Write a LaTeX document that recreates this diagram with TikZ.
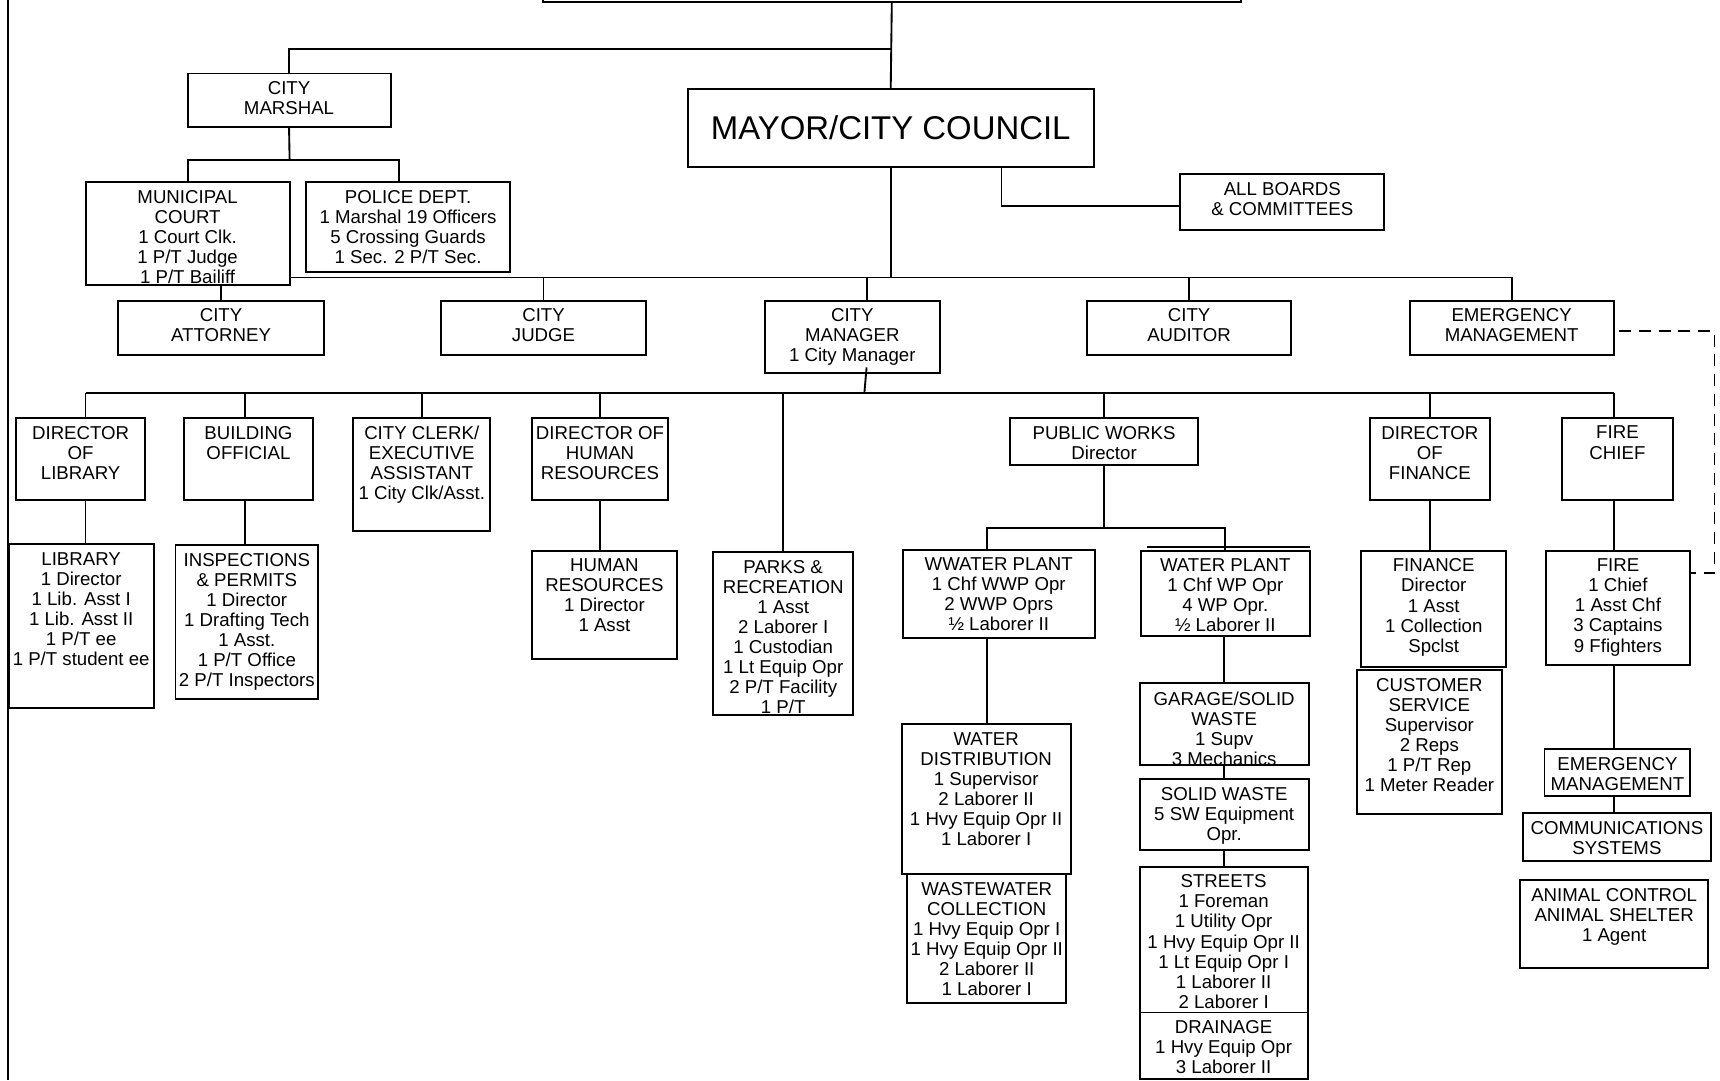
\documentclass[tikz,border=0pt]{standalone}
\usepackage{fontspec}
\setmainfont{Liberation Sans}
\usetikzlibrary{calc}
\newcommand{\orgbox}[6]{%
  \node[box, minimum width={(#4-#2)*1pt}, minimum height={(#5-#3)*1pt}] (#1) at ({(#2+#4)/2},{(#3+#5)/2}) {};
  \node[txt, anchor=north] (#1-t) at ([yshift=-7.3pt]#1.north) {#6};
}
\begin{document}
\begin{tikzpicture}[x=1pt,y=-1pt,
  box/.style={draw, line width=1.8pt, inner sep=0pt, outer sep=0pt, rectangle},
  txt/.style={inner sep=0pt, align=center, font=\fontsize{17}{18.3}\selectfont},
  conn/.style={line width=1.7pt},
  dconn/.style={line width=1.7pt, dash pattern=on 11pt off 7pt, dash phase=-5pt}]
\path[use as bounding box] (0,0) rectangle (1568,985);
\clip (0,0) rectangle (1568,985);
\fill[white] (0,0) rectangle (1568,985);

% left frame edge
\draw[conn] (7,0) -- (7,985);

% top (cut-off) box and mayor
\node[box, minimum width=636pt, minimum height=44pt] (top) at (813,-20) {};
\node[box, minimum width=370pt, minimum height=71pt, font=\fontsize{30}{36}\selectfont] (mayor) at (812,116.5) {MAYOR/CITY COUNCIL};

\orgbox{marshal}{171}{67}{356}{116}{CITY\\MARSHAL}
\orgbox{court}{78}{166}{264}{260}{MUNICIPAL\\COURT\\1 Court Clk.\\1 P/T Judge\\1 P/T Bailiff}
\orgbox{police}{279}{166}{465}{248}{POLICE DEPT.\\1 Marshal 19 Officers\\5 Crossing Guards\\1 Sec. 2 P/T Sec.}
\orgbox{boards}{1076}{159}{1262}{210}{ALL BOARDS\\\& COMMITTEES}

\orgbox{attorney}{108}{274}{295}{324}{CITY\\ATTORNEY}
\orgbox{judge}{402}{274}{589}{324}{CITY\\JUDGE}
\orgbox{manager}{697}{274}{857}{340}{CITY\\MANAGER\\1 City Manager}
\orgbox{auditor}{991}{274}{1177}{324}{CITY\\AUDITOR}
\orgbox{emerg}{1285}{274}{1471}{324}{EMERGENCY\\MANAGEMENT}

\orgbox{libdir}{15}{381}{132}{456}{DIRECTOR\\OF\\LIBRARY}
\orgbox{bldg}{168}{381}{285}{456}{BUILDING\\OFFICIAL}
\orgbox{clerk}{322}{381}{447}{484}{CITY CLERK/\\EXECUTIVE\\ASSISTANT\\1 City Clk/Asst.}
\orgbox{hrdir}{485}{381}{609}{456}{DIRECTOR OF\\HUMAN\\RESOURCES}
\orgbox{pw}{921}{381}{1092}{424}{PUBLIC WORKS\\Director}
\orgbox{findir}{1249}{381}{1358}{456}{DIRECTOR\\OF\\FINANCE}
\orgbox{chief}{1424}{381}{1525}{456}{FIRE\\CHIEF}

\orgbox{library}{8}{496}{140}{645}{LIBRARY\\1 Director\\1 Lib. Asst I\\1 Lib. Asst II\\1 P/T ee\\1 P/T student ee}
\orgbox{insp}{160}{497}{290}{637}{INSPECTIONS\\\& PERMITS\\1 Director\\1 Drafting Tech\\1 Asst.\\1 P/T Office\\2 P/T Inspectors}
\orgbox{hr}{485}{502}{617}{601}{HUMAN\\RESOURCES\\1 Director\\1 Asst}
\orgbox{parks}{650}{503}{778}{652}{PARKS \&\\RECREATION\\1 Asst\\2 Laborer I\\1 Custodian\\1 Lt Equip Opr\\2 P/T Facility\\1 P/T}
\orgbox{wwp}{823}{501}{998}{582}{WWATER PLANT\\1 Chf WWP Opr\\2 WWP Oprs\\½ Laborer II}
\orgbox{wp}{1040}{502}{1194}{580}{WATER PLANT\\1 Chf WP Opr\\4 WP Opr.\\½ Laborer II}
\orgbox{wd}{822}{660}{976}{797}{WATER\\DISTRIBUTION\\1 Supervisor\\2 Laborer II\\1 Hvy Equip Opr II\\1 Laborer I}
\orgbox{wc}{827}{797}{972}{914}{WASTEWATER\\COLLECTION\\1 Hvy Equip Opr I\\1 Hvy Equip Opr II\\2 Laborer II\\1 Laborer I}
\orgbox{garage}{1039}{623}{1193}{697}{GARAGE/SOLID\\WASTE\\1 Supv\\3 Mechanics}
\orgbox{solid}{1039}{710}{1193}{775}{SOLID WASTE\\5 SW Equipment\\Opr.}
\orgbox{streets}{1039}{790}{1192}{923}{STREETS\\1 Foreman\\1 Utility Opr\\1 Hvy Equip Opr II\\1 Lt Equip Opr I\\1 Laborer II\\2 Laborer I}
\orgbox{drain}{1039}{923}{1192}{984}{DRAINAGE\\1 Hvy Equip Opr\\3 Laborer II}
\orgbox{finance}{1241}{502}{1373}{608}{FINANCE\\Director\\1 Asst\\1 Collection\\Spclst}
\orgbox{cust}{1237}{611}{1369}{742}{CUSTOMER\\SERVICE\\Supervisor\\2 Reps\\1 P/T Rep\\1 Meter Reader}
\orgbox{fire}{1409}{502}{1541}{606}{FIRE\\1 Chief\\1 Asst Chf\\3 Captains\\9 Ffighters}
\orgbox{em2}{1408}{683}{1541}{726}{EMERGENCY\\MANAGEMENT}
\orgbox{comm}{1388}{741}{1560}{785}{COMMUNICATIONS\\SYSTEMS}
\orgbox{animal}{1386}{802}{1557}{882}{ANIMAL CONTROL\\ANIMAL SHELTER\\1 Agent}

% second top line over water plant
\draw[conn] ([xshift=6pt,yshift=3.5pt]wp.north west) -- ([yshift=3.5pt]wp.north east);

% helper coordinates
\coordinate (jTop) at (813,45);
\coordinate (jM) at (264,146);
\coordinate (polx) at (364,0);
\coordinate (bus1) at (0,253);
\coordinate (mgx) at (790,0);
\coordinate (bx) at (913,0);
\coordinate (bus2) at (0,358);
\coordinate (mtick) at (788,358);
\coordinate (lx) at (78,0);
\coordinate (bdx) at (223,0);
\coordinate (cx) at (1471.5,0);
\coordinate (pwj) at (0,481);
\coordinate (wwx) at (900,0);
\coordinate (gx) at (1115.5,0);
\coordinate (dx) at (1563,0);
\coordinate (dy) at (0,522);

% connectors: top
\draw[conn] (top.south) -- (mayor.north);
\draw[conn] (marshal.north) |- (jTop);
\draw[conn] (marshal.south) -- (jM);
\draw[conn] (court.north) |- (polx |- jM) -- (polx |- police.north);
\draw[conn] (bx |- mayor.south) |- ([yshift=-3pt]boards.west);

% bus 1
\draw[conn] (mayor.south) -- (mayor.south |- bus1);
\draw[conn] (court.east |- bus1) -- (emerg.north |- bus1) -- (emerg.north);
\draw[conn] (attorney.north) -- (attorney.north |- court.south);
\draw[conn] (judge.north) -- (judge.north |- bus1);
\draw[conn] (mgx |- manager.north) -- (mgx |- bus1);
\draw[conn] (auditor.north) -- (auditor.north |- bus1);

% bus 2
\draw[conn] ([xshift=13pt,yshift=5pt]manager.south) -- (mtick);
\draw[conn] (lx |- bus2) -- (cx |- bus2);
\draw[conn] (lx |- bus2) -- (lx |- libdir.north);
\draw[conn] (bdx |- bus2) -- (bdx |- bldg.north);
\draw[conn] (clerk.north |- bus2) -- (clerk.north);
\draw[conn] (hrdir.north |- bus2) -- (hrdir.north);
\draw[conn] (parks.north |- bus2) -- (parks.north);
\draw[conn] (pw.north |- bus2) -- (pw.north);
\draw[conn] (findir.north |- bus2) -- (findir.north);
\draw[conn] (cx |- bus2) -- (cx |- chief.north);

% lower drops
\draw[conn] (lx |- libdir.south) -- (lx |- library.north);
\draw[conn] (bdx |- bldg.south) -- (bdx |- insp.north);
\draw[conn] (hrdir.south) -- (hrdir.south |- hr.north);
\draw[conn] (pw.south) -- (pw.south |- pwj);
\draw[conn] (wwx |- wwp.north) |- (wp.north |- pwj) -- (wp.north);
\draw[conn] (wwx |- wwp.south) -- (wwx |- wd.north);
\draw[conn] (gx |- wp.south) -- (gx |- garage.north);
\draw[conn] (gx |- garage.south) -- (gx |- solid.north);
\draw[conn] (gx |- solid.south) -- (gx |- streets.north);
\draw[conn] (findir.south) -- (findir.south |- finance.north);
\draw[conn] (cx |- chief.south) -- (cx |- fire.north);
\draw[conn] (cx |- fire.south) -- (cx |- em2.north);
\draw[conn] (cx |- em2.south) -- (cx |- comm.north);

% dashed link
\draw[dconn] ([yshift=-3pt]emerg.east) -| (dx |- dy) -- (fire.east |- dy);
\end{tikzpicture}
\end{document}
